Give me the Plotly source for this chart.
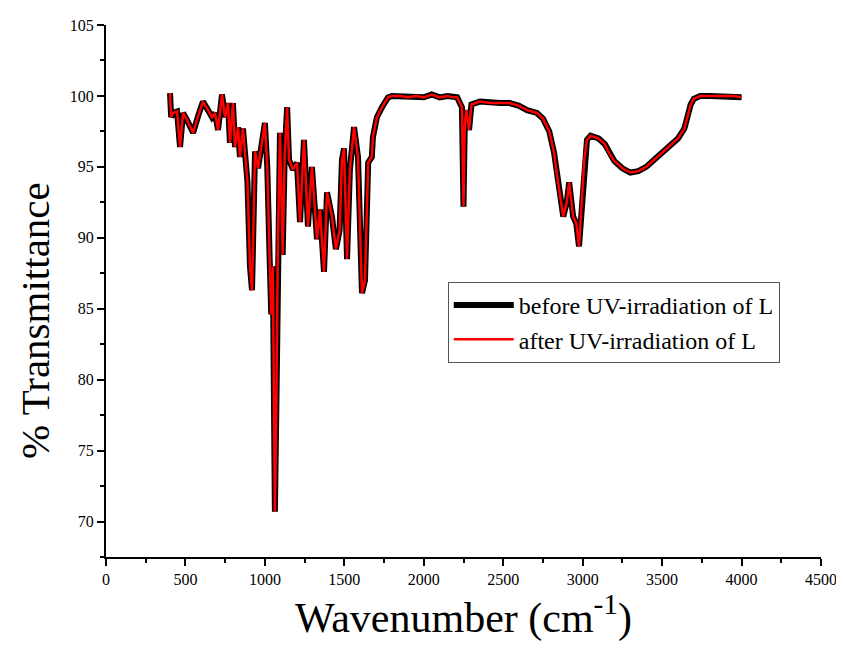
import plotly.graph_objects as go

# Wavenumber (cm^-1) and % transmittance
wavenumber = [403, 410, 422, 447, 466, 485, 510, 548, 580, 610, 642, 667, 686, 705, 730, 749, 768,
              780, 799, 812, 831, 843, 862, 890, 906, 919, 938, 957, 1000, 1015, 1030, 1040,
              1050, 1063, 1072, 1082, 1095, 1105, 1112, 1125, 1140, 1152, 1177, 1202, 1221,
              1246, 1271, 1296, 1328, 1347, 1372, 1391, 1422, 1447, 1470, 1485, 1498, 1517,
              1535, 1561, 1586, 1611, 1630, 1650, 1673, 1680, 1705, 1737, 1775, 1800, 1850,
              1900, 1950, 2000, 2050, 2100, 2150, 2185, 2210, 2240, 2250, 2258, 2268, 2285,
              2300, 2353, 2420, 2480, 2540, 2600, 2650, 2712, 2750, 2790, 2820, 2840, 2860,
              2878, 2900, 2915, 2940, 2960, 2977, 2995, 3010, 3027, 3050, 3100, 3140, 3165,
              3200, 3250, 3300, 3350, 3400, 3450, 3500, 3550, 3600, 3640, 3660, 3680, 3700,
              3740, 3800, 3850, 3900, 3950, 4000]

before_uv = [100.2, 98.5, 98.8, 98.9, 96.4, 98.8, 98.3, 97.4, 98.6, 99.6, 99.0, 98.5, 98.8, 97.6,
             100.1, 98.5, 99.5, 96.7, 99.5, 96.4, 97.8, 95.7, 97.7, 94.0, 88.0, 86.3, 96.1, 94.9,
             98.1, 95.0, 88.5, 84.6, 88.0, 70.7, 78.0, 90.0, 97.4, 93.0, 88.8, 96.0, 99.2, 95.5,
             94.8, 95.3, 91.1, 96.9, 90.8, 95.0, 89.9, 92.0, 87.6, 93.2, 91.5, 89.2, 90.5, 95.5,
             96.3, 88.5, 94.8, 97.8, 95.7, 86.1, 87.0, 95.3, 95.7, 97.1, 98.5, 99.2, 99.9, 100.0,
             100.0, 99.9, 100.0, 99.9, 100.1, 99.9, 100.0, 99.9, 99.9, 99.2, 92.2, 98.0, 99.0,
             97.6, 99.4, 99.6, 99.5, 99.5, 99.5, 99.3, 99.0, 98.8, 98.4, 97.5, 96.0, 94.3, 92.7,
             91.5, 92.5, 93.9, 91.5, 91.0, 89.4, 92.5, 95.5, 96.9, 97.2, 97.0, 96.6, 96.0, 95.4,
             94.9, 94.6, 94.7, 95.0, 95.5, 96.0, 96.5, 97.0, 97.7, 98.5, 99.4, 99.8, 100.0,
             100.0, 100.0, 100.0, 100.0, 99.9]

# after irradiation: visually indistinguishable from the "before" trace
after_uv = list(before_uv)

FONT = "Liberation Serif, Times New Roman, serif"

fig = go.Figure()
fig.add_trace(go.Scatter(x=wavenumber, y=before_uv, mode="lines",
                         name="before UV-irradiation of L",
                         line=dict(color="black", width=6)))
fig.add_trace(go.Scatter(x=wavenumber, y=after_uv, mode="lines",
                         name="after UV-irradiation of L",
                         line=dict(color="#ff0000", width=2.5)))

# page has an 8px body margin, so the figure is sized to fit inside 844x653
fig.update_layout(
    width=836, height=637,
    margin=dict(l=98, r=23, t=17, b=88),
    paper_bgcolor="white", plot_bgcolor="white",
    font=dict(family=FONT, color="black", size=16),
    showlegend=True,
    legend=dict(x=0.478, y=0.517, xanchor="left", yanchor="top",
                bgcolor="white", bordercolor="#555555", borderwidth=1,
                font=dict(family=FONT, size=24, color="black"),
                itemwidth=60, tracegroupgap=0),
    annotations=[dict(text="% Transmittance", textangle=-90, showarrow=False,
                      xref="paper", yref="paper", x=-0.099, y=0.444,
                      xanchor="center", yanchor="middle",
                      font=dict(family=FONT, size=41, color="black"))],
)

fig.update_xaxes(range=[0, 4500], tickmode="linear", tick0=0, dtick=500,
                 ticks="outside", ticklen=7, tickwidth=1.5, tickcolor="black",
                 showline=True, linecolor="black", linewidth=2,
                 showgrid=False, zeroline=False, automargin=False,
                 ticklabeloverflow="allow",
                 tickfont=dict(family=FONT, size=16),
                 minor=dict(dtick=250, ticks="outside", ticklen=4, tickwidth=1.5, tickcolor="black"),
                 title=dict(text="Wavenumber (cm<sup>-1</sup>)",
                            font=dict(family=FONT, size=42), standoff=10))

fig.update_yaxes(range=[67.5, 105], tickmode="linear", tick0=70, dtick=5,
                 ticks="outside", ticklen=7, tickwidth=1.5, tickcolor="black",
                 showline=True, linecolor="black", linewidth=2,
                 showgrid=False, zeroline=False, automargin=False,
                 ticklabeloverflow="allow",
                 tickfont=dict(family=FONT, size=16),
                 minor=dict(dtick=2.5, ticks="outside", ticklen=4, tickwidth=1.5, tickcolor="black"))

fig.write_html("out.html")
